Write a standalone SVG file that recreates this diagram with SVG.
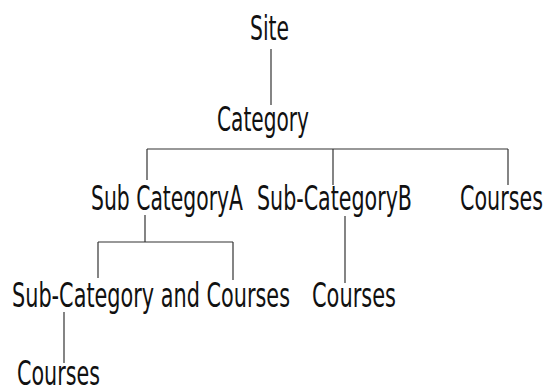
<svg xmlns="http://www.w3.org/2000/svg" width="546" height="385" viewBox="0 0 546 385">
<style>
text{font-family:"Liberation Sans Narrow","DejaVu Sans Condensed","Liberation Sans",sans-serif;font-size:34px;fill:#111}
.c line{stroke:#333;stroke-width:1.2;fill:none}
</style>
<rect width="546" height="385" fill="#fff"/>
<g class="c" id="connectors">
<line x1="271" y1="49" x2="271" y2="105"/>
<line x1="147" y1="149" x2="508" y2="149"/>
<line x1="147" y1="149" x2="147" y2="180"/>
<line x1="333" y1="149" x2="333" y2="185"/>
<line x1="508" y1="149" x2="508" y2="185"/>
<line x1="145" y1="215" x2="145" y2="242"/>
<line x1="98" y1="242" x2="233" y2="242"/>
<line x1="98" y1="242" x2="98" y2="278"/>
<line x1="233" y1="242" x2="233" y2="280"/>
<line x1="345" y1="216" x2="345" y2="283"/>
<line x1="64" y1="312" x2="64" y2="363"/>
</g>
<g id="site"><text x="250" y="40" textLength="39" lengthAdjust="spacingAndGlyphs">Site</text></g>
<g id="category"><text x="217" y="131" textLength="92" lengthAdjust="spacingAndGlyphs">Category</text></g>
<g id="subA"><text x="91" y="210" textLength="152" lengthAdjust="spacingAndGlyphs">Sub CategoryA</text></g>
<g id="subB"><text x="257" y="210" textLength="155" lengthAdjust="spacingAndGlyphs">Sub-CategoryB</text></g>
<g id="courses1"><text x="460" y="210" textLength="83" lengthAdjust="spacingAndGlyphs">Courses</text></g>
<g id="subCatCourses"><text x="12" y="307" textLength="278" lengthAdjust="spacingAndGlyphs">Sub-Category and Courses</text></g>
<g id="courses2"><text x="312" y="307" textLength="84" lengthAdjust="spacingAndGlyphs">Courses</text></g>
<g id="courses3"><text x="17" y="385" textLength="83" lengthAdjust="spacingAndGlyphs">Courses</text></g>
</svg>
